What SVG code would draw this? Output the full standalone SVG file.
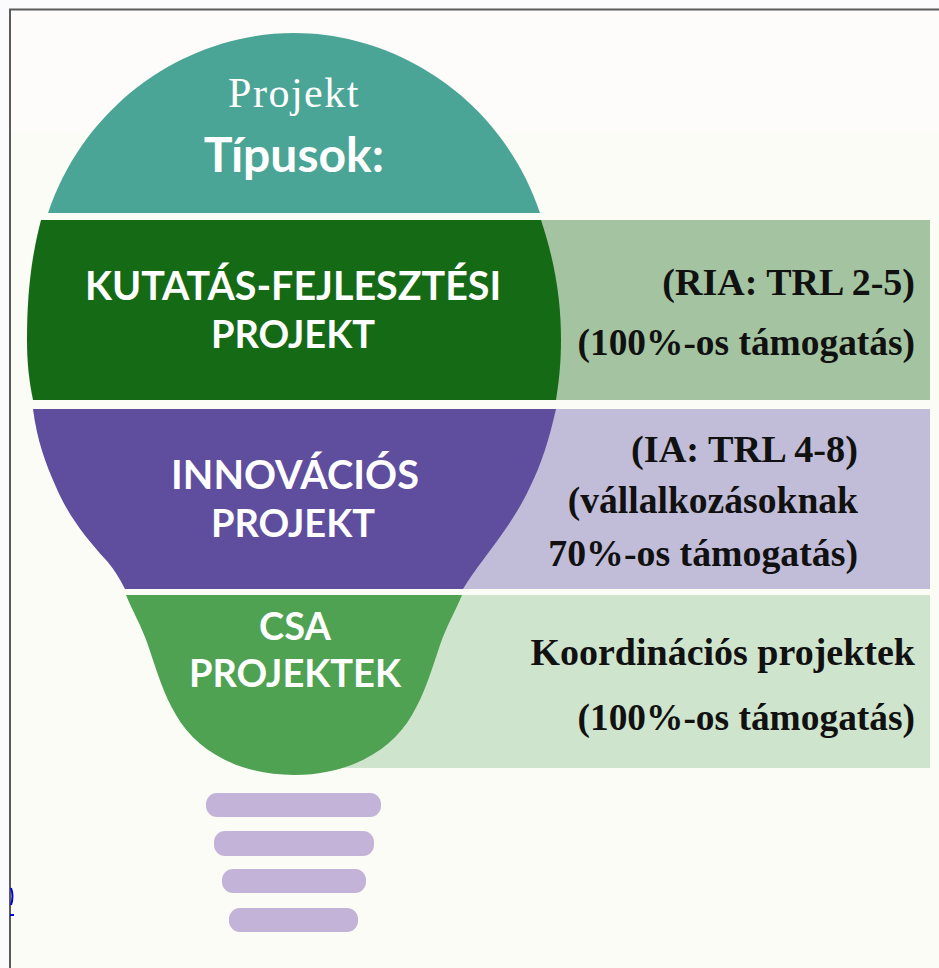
<svg xmlns="http://www.w3.org/2000/svg" width="939" height="968" viewBox="0 0 939 968">
<style>
.w{fill:#fff;font-family:"Lato","Open Sans",sans-serif;font-weight:700;font-size:38px;text-anchor:middle}
.k{fill:#111;font-family:"Liberation Serif",serif;font-weight:700;font-size:38px;text-anchor:end}
.b{fill:#c4b3d8}
</style>
<rect width="939" height="968" fill="#fbfbfe"/>
<rect x="10" y="9" width="929" height="124" fill="#fdfcfa"/>
<rect x="10" y="133" width="929" height="835" fill="#fbfcf6"/>
<path d="M10 968V9.500H939" fill="none" stroke="#5a5a5a" stroke-width="2"/>
<path d="M11 888Q14 896 11 905M10 915H14" fill="none" stroke="#0000e0" stroke-width="2"/>
<g id="panels">
<rect x="400" y="220" width="530" height="180" fill="#a4c3a0"/>
<rect x="400" y="409" width="530" height="180" fill="#c1bdd8"/>
<rect x="300" y="595" width="630" height="173" fill="#cfe4cc"/>
</g>
<g id="node-top">
<path d="M48 213C86 100 190 33 294 33C398 33 502 100 540 213Z" fill="#4ba596"/>
<text x="294" y="107" fill="#fff" font-family="Liberation Serif,serif" font-size="42" text-anchor="middle" letter-spacing="1.500">Projekt</text>
<text x="294" y="172" class="w" style="font-size:48px">Típusok:</text>
</g>
<g id="node-ria">
<path d="M41 220H541C555 262 561 300 561 340C561 362 559 381 556 400H33C29 381 27 362 27 340C27 300 30 262 41 220Z" fill="#156a16"/>
<text x="293" y="300" class="w" style="font-size:39.400px">KUTATÁS-FEJLESZTÉSI</text>
<text x="293" y="348" class="w">PROJEKT</text>
<text x="915" y="295" class="k">(RIA: TRL 2-5)</text>
<text x="915" y="355" class="k" style="font-size:37.400px">(100%-os támogatás)</text>
</g>
<g id="node-ia">
<path d="M33 409H556C549 440 541 465 530 487C517 515 500 537 483 560C476 569 469 579 463 589H125C119 577 113 568 106 560C85 537 68 515 56 487C45 462 37 440 33 409Z" fill="#5f4d9e"/>
<text x="295" y="489" class="w" style="font-size:39.700px">INNOVÁCIÓS</text>
<text x="293" y="537" class="w">PROJEKT</text>
<text x="858" y="462" class="k" style="font-size:38.300px">(IA: TRL 4-8)</text>
<text x="858" y="513" class="k" style="font-size:37.600px">(vállalkozásoknak</text>
<text x="858" y="566" class="k" style="font-size:37.800px">70%-os támogatás)</text>
</g>
<g id="node-csa">
<path d="M126 595H462C455 612 447 625 440 645C431 672 424 695 412 715C392 750 350 775 294 775C238 775 196 750 176 715C164 695 157 672 148 645C141 625 133 612 126 595Z" fill="#4fa252"/>
<text x="295" y="640" class="w">CSA</text>
<text x="295" y="687" class="w">PROJEKTEK</text>
<text x="915" y="665" class="k">Koordinációs projektek</text>
<text x="915" y="730" class="k" style="font-size:37.400px">(100%-os támogatás)</text>
</g>
<g id="node-base">
<rect x="206" y="793" width="175" height="24" rx="11" class="b"/>
<rect x="214" y="831" width="160" height="25" rx="11" class="b"/>
<rect x="222" y="869" width="144" height="24" rx="11" class="b"/>
<rect x="229" y="908" width="129" height="24" rx="11" class="b"/>
</g>
<g id="connectors"/>
</svg>
